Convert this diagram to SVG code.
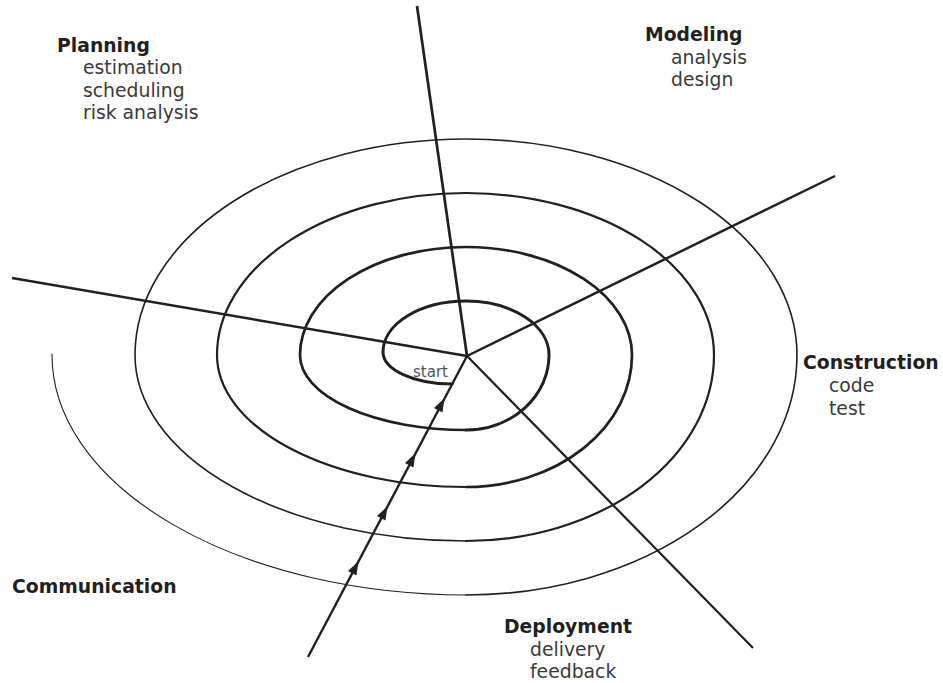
<svg xmlns="http://www.w3.org/2000/svg" xmlns:xlink="http://www.w3.org/1999/xlink" width="943" height="683" viewBox="0 0 943 683">
<style>
  .sp { fill: none; stroke: #231f20; stroke-linecap: round; }
  .ax { stroke: #231f20; stroke-linecap: butt; }
  .h { font-family: "DejaVu Sans", "Liberation Sans", sans-serif; font-weight: 700; font-size: 18.8px; fill: #231f20; }
  .t { font-family: "DejaVu Sans", "Liberation Sans", sans-serif; font-weight: 400; font-size: 18.8px; fill: #3a3a3a; }
  .s { font-family: "DejaVu Sans", "Liberation Sans", sans-serif; font-weight: 400; font-size: 15px; fill: #555555; }
</style>
<defs>
  <path id="ah" d="M7.5,0 L-6,-4.8 L-6,4.8 Z" fill="#231f20"/>
</defs>
<rect width="943" height="683" fill="#ffffff"/>

<g id="spiral">
  <path class="sp" stroke-width="3" d="M452 384 A69 32 0 0 1 383 352 A83 51 0 0 1 466 301 A83 54 0 0 1 549 355 A83 75 0 0 1 466 430"/>
  <path class="sp" stroke-width="2.7" d="M466 430 A166 75 0 0 1 300 355 A166 108 0 0 1 466 247 A166 108 0 0 1 632 355 A166 132 0 0 1 466 487"/>
  <path class="sp" stroke-width="2.2" d="M466 487 A249 132 0 0 1 217 355 A249 162 0 0 1 466 193 A248 162 0 0 1 714 355 A248 186 0 0 1 466 541"/>
  <path class="sp" stroke-width="1.6" d="M466 541 A331 186 0 0 1 135 355 A331 216 0 0 1 466 139 A331 216 0 0 1 797 355 A331 240 0 0 1 466 595"/>
  <path class="sp" stroke-width="1.1" d="M466 595 A414 240 0 0 1 52 354"/>
</g>

<g id="connectors">
  <line class="ax" x1="467" y1="356" x2="417" y2="6" stroke-width="2.7"/>
  <line class="ax" x1="467" y1="356" x2="12" y2="278" stroke-width="2.5"/>
  <line class="ax" x1="467" y1="356" x2="835" y2="176" stroke-width="2.5"/>
  <line class="ax" x1="467" y1="356" x2="753" y2="648" stroke-width="2.2"/>
  <line class="ax" x1="467" y1="356" x2="308" y2="657" stroke-width="2.4"/>
  <use xlink:href="#ah" transform="translate(441 405) rotate(-62.2)"/>
  <use xlink:href="#ah" transform="translate(412 460) rotate(-62.2)"/>
  <use xlink:href="#ah" transform="translate(384 513) rotate(-62.2)"/>
  <use xlink:href="#ah" transform="translate(355 568) rotate(-62.2)"/>
</g>

<g id="start">
  <text class="s" x="413" y="377">start</text>
</g>

<g id="planning">
  <text class="h" x="57" y="51.5">Planning</text>
  <text class="t" x="83" y="74">estimation</text>
  <text class="t" x="83" y="96.5">scheduling</text>
  <text class="t" x="83" y="119">risk analysis</text>
</g>

<g id="modeling">
  <text class="h" x="645" y="41">Modeling</text>
  <text class="t" x="671" y="63.5">analysis</text>
  <text class="t" x="671" y="86">design</text>
</g>

<g id="construction">
  <text class="h" x="803" y="369">Construction</text>
  <text class="t" x="829" y="392">code</text>
  <text class="t" x="829" y="415">test</text>
</g>

<g id="deployment">
  <text class="h" x="504" y="633">Deployment</text>
  <text class="t" x="530" y="655.5">delivery</text>
  <text class="t" x="530" y="678">feedback</text>
</g>

<g id="communication">
  <text class="h" x="12" y="593">Communication</text>
</g>
</svg>
